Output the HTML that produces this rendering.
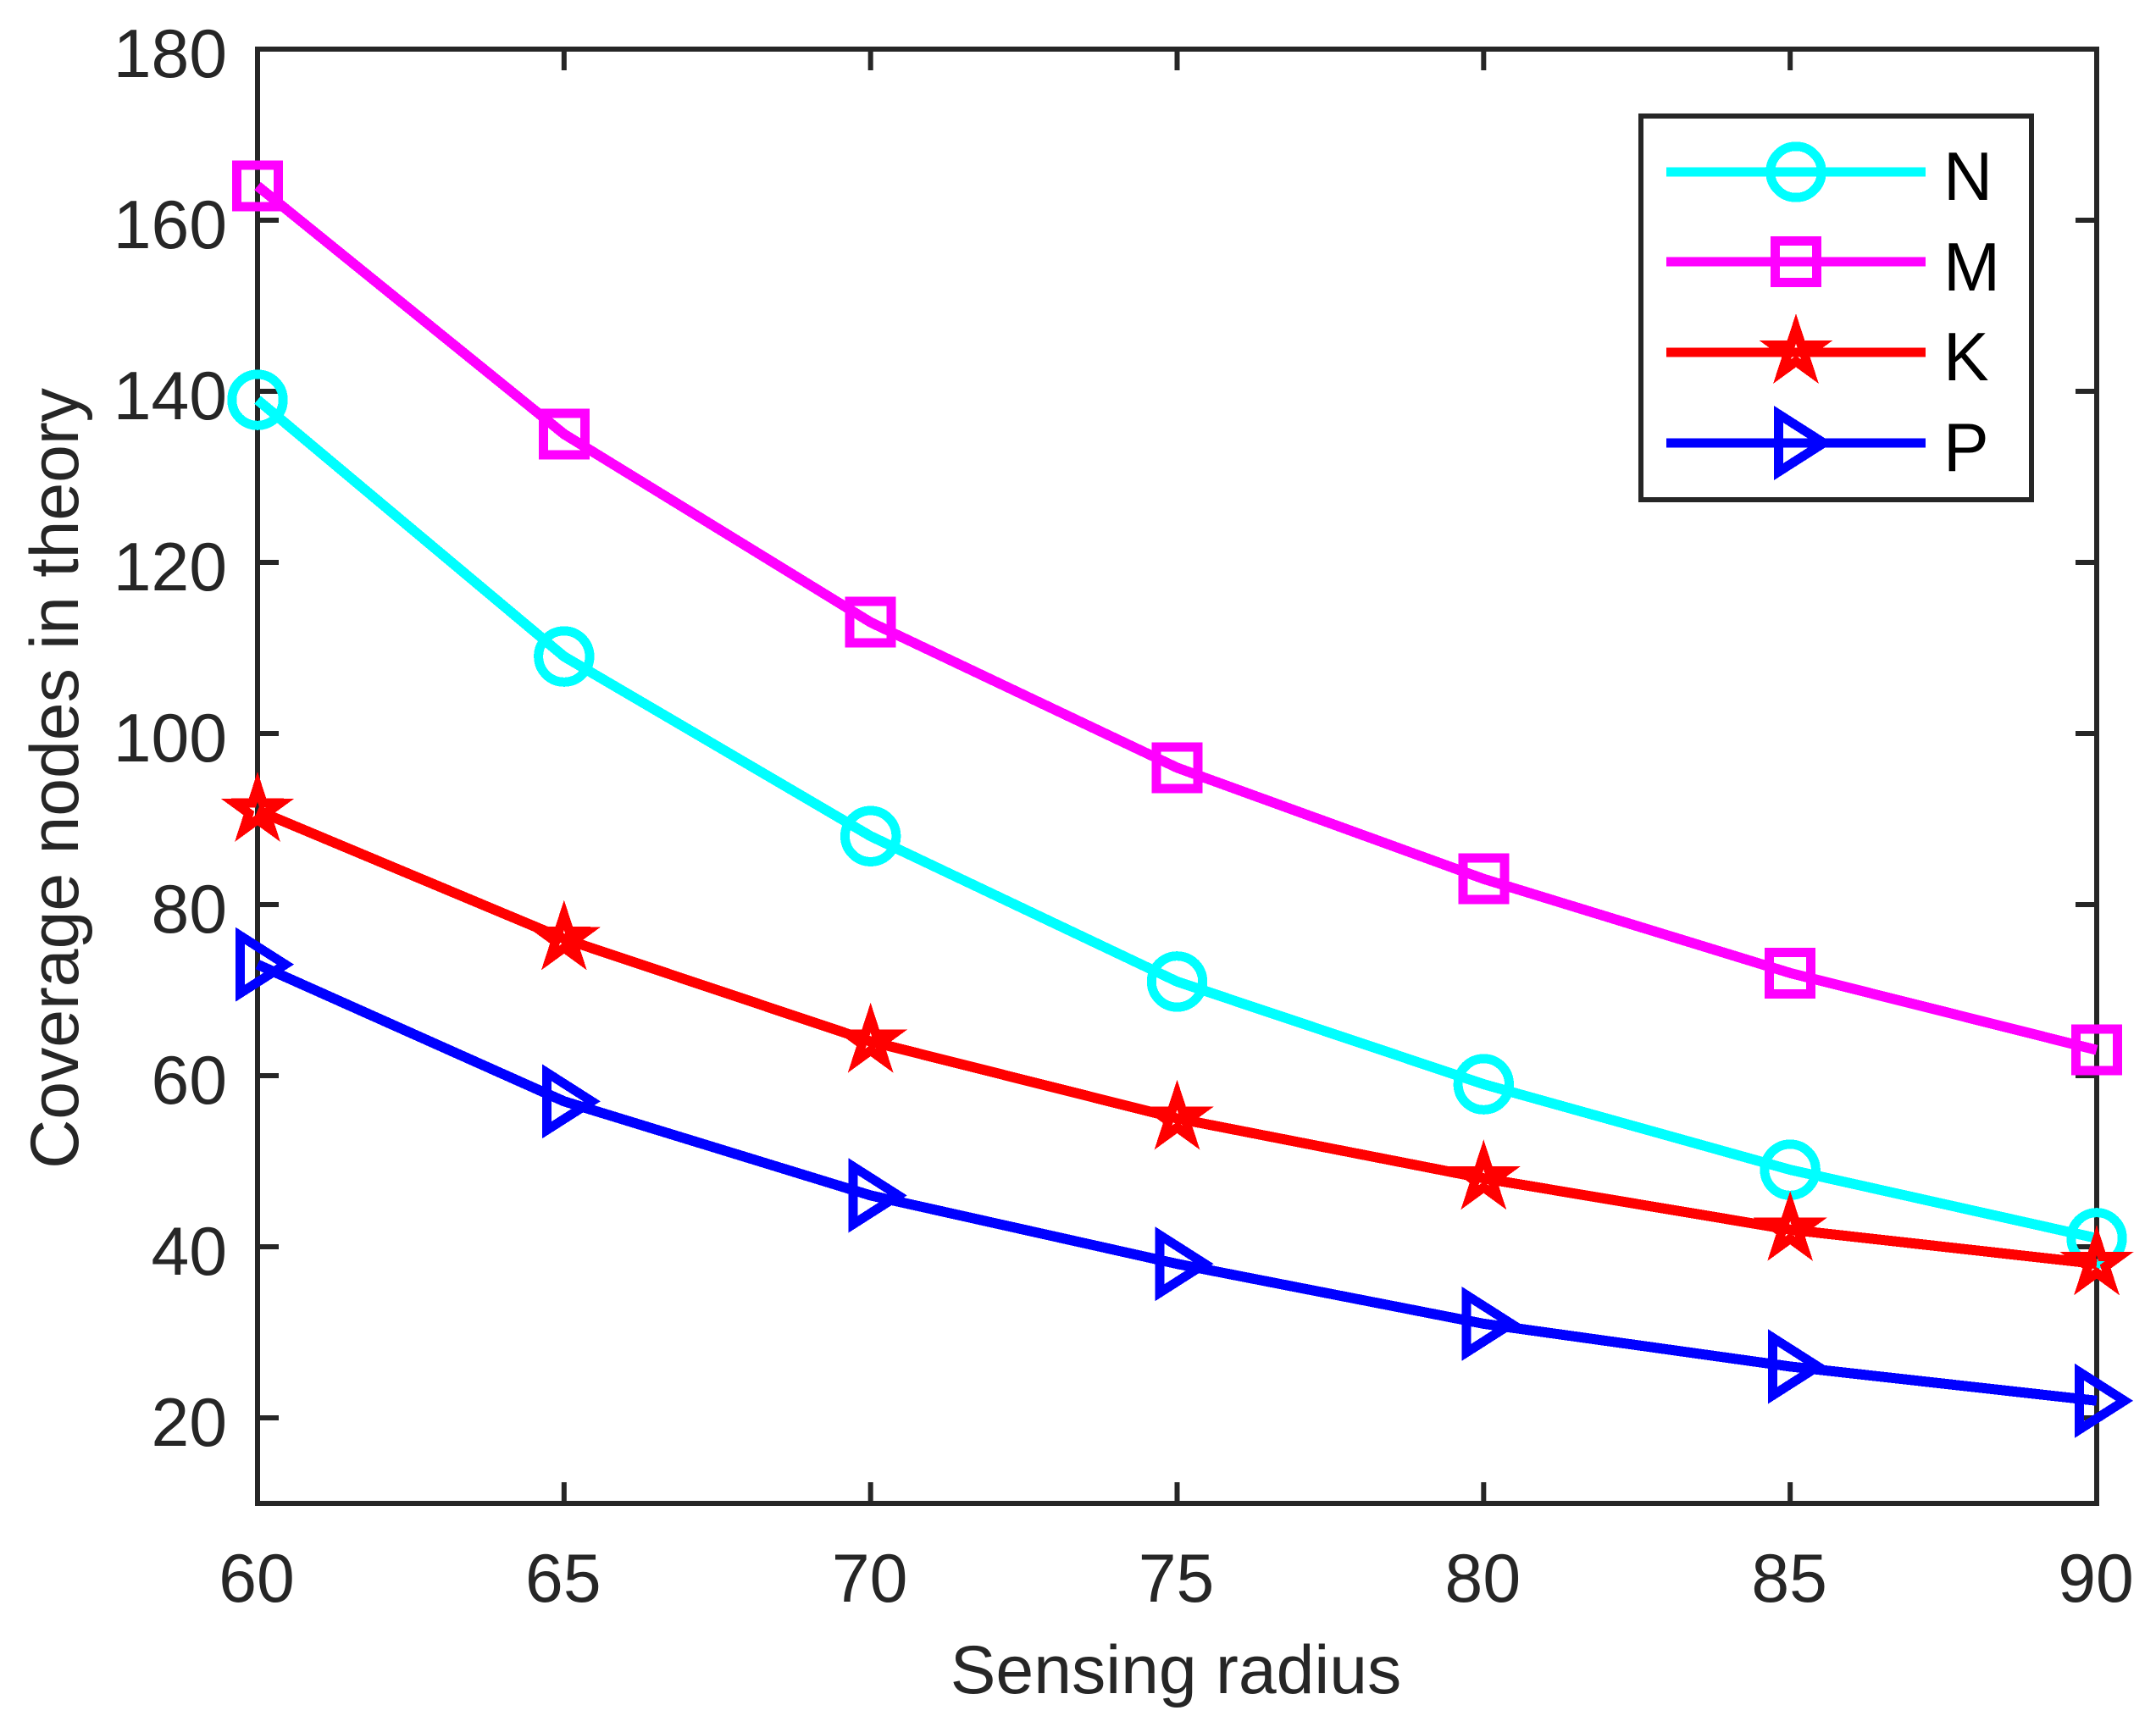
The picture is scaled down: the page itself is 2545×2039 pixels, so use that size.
<!DOCTYPE html>
<html>
<head>
<meta charset="utf-8">
<title>Coverage nodes in theory vs sensing radius</title>
<style>
html,body{margin:0;padding:0;background:#fff;}
svg{display:block;}
text{font-family:"Liberation Sans",Arial,sans-serif;font-size:80.5px;}
</style>
</head>
<body>
<svg id="chart" xmlns="http://www.w3.org/2000/svg" width="2545" height="2039" viewBox="0 0 2545 2039">
<rect x="0" y="0" width="2545" height="2039" fill="#ffffff"/>
<g id="axes"></g>
<g id="series" shape-rendering="crispEdges"></g>
<text x="1388" y="1999" text-anchor="middle" fill="#262626">Sensing radius</text>
<text transform="translate(92 919) rotate(-90)" text-anchor="middle" fill="#262626">Coverage nodes in theory</text>
<g id="legend" shape-rendering="crispEdges"></g>
</svg>
<script>
const categories = [60, 65, 70, 75, 80, 85, 90];
const valuesN = [139, 109, 88, 71, 59, 49, 41];
const valuesM = [164, 135, 113, 96, 83, 72, 63];
const valuesK = [91, 76, 64, 55, 48, 42, 38];
const valuesP = [73, 57, 46, 38, 31, 26, 22];
const xTickLabels = [60, 65, 70, 75, 80, 85, 90];
const yTickLabels = [20, 40, 60, 80, 100, 120, 140, 160, 180];
const seriesNames = ['N', 'M', 'K', 'P'];

const NS = 'http://www.w3.org/2000/svg';
const plotLeft = 304, plotRight = 2475, plotTop = 58, plotBottom = 1775;
const xMin = 60, xMax = 90, yMin = 10, yMax = 180;
const ink = '#262626';
function xScale(v) { return plotLeft + (v - xMin) / (xMax - xMin) * (plotRight - plotLeft); }
function yScale(v) { return plotBottom - (v - yMin) / (yMax - yMin) * (plotBottom - plotTop); }

function make(tag, attrs, parent) {
  const el = document.createElementNS(NS, tag);
  for (const k in attrs) el.setAttribute(k, attrs[k]);
  parent.appendChild(el);
  return el;
}

const axes = document.getElementById('axes');
const plotBox = make('rect', {x: plotLeft, y: plotTop, width: plotRight - plotLeft, height: plotBottom - plotTop, fill: 'none', stroke: ink, 'stroke-width': 6}, axes);



xTickLabels.forEach(function (v) {
  const x = xScale(v);
  [[plotBottom, plotBottom - 25], [plotTop, plotTop + 25]].forEach(function (p) {
    const t = make('line', {x1: x, x2: x, y1: p[0], y2: p[1], stroke: ink, 'stroke-width': 6}, axes);
    
    
  });
  const lab = make('text', {x: x - 1, y: 1891, 'text-anchor': 'middle', fill: ink}, axes);
  lab.textContent = String(v);
  
  
});

yTickLabels.forEach(function (v) {
  const y = yScale(v);
  [[plotLeft, plotLeft + 25], [plotRight, plotRight - 25]].forEach(function (p) {
    const t = make('line', {x1: p[0], x2: p[1], y1: y, y2: y, stroke: ink, 'stroke-width': 6}, axes);
    
    
  });
  const lab = make('text', {x: 268, y: y + 33, 'text-anchor': 'end', fill: ink}, axes);
  lab.textContent = String(v);
  
  
});

function polyPoints(cx, cy, pts) {
  return pts.map(function (p) { return (cx + p[0]).toFixed(2) + ',' + (cy + p[1]).toFixed(2); }).join(' ');
}

function drawCircle(cx, cy, color, parent) {
  return make('circle', {cx: cx, cy: cy, r: 30.2, fill: 'none', stroke: color, 'stroke-width': 11}, parent);
}
function drawSquare(cx, cy, color, parent) {
  return make('rect', {x: cx - 24.5, y: cy - 24.5, width: 49, height: 49, fill: 'none', stroke: color, 'stroke-width': 11}, parent);
}
function drawStar(cx, cy, color, parent) {
  const pts = [];
  for (let i = 0; i < 10; i++) {
    const r = i % 2 === 0 ? 28 : 10.7;
    const a = -Math.PI / 2 + i * Math.PI / 5;
    pts.push([r * Math.cos(a), r * Math.sin(a)]);
  }
  return make('polygon', {points: polyPoints(cx, cy, pts), fill: 'none', stroke: color, 'stroke-width': 11, 'stroke-miterlimit': 10}, parent);
}
function drawTriangle(cx, cy, color, parent) {
  return make('polygon', {points: polyPoints(cx, cy, [[-20.5, -34], [32.8, 0], [-20.5, 34]]), fill: 'none', stroke: color, 'stroke-width': 11, 'stroke-miterlimit': 10}, parent);
}

const seriesValues = [valuesN, valuesM, valuesK, valuesP];
const seriesColors = ['#00ffff', '#ff00ff', '#ff0000', '#0000ff'];
const seriesMarkers = [drawCircle, drawSquare, drawStar, drawTriangle];

const seriesGroup = document.getElementById('series');
seriesValues.forEach(function (vals, s) {
  const pts = vals.map(function (v, i) { return xScale(categories[i]).toFixed(2) + ',' + yScale(v).toFixed(2); }).join(' ');
  const line = make('polyline', {points: pts, fill: 'none', stroke: seriesColors[s], 'stroke-width': 12, 'stroke-linejoin': 'round', 'stroke-linecap': 'butt'}, seriesGroup);
  
  
  vals.forEach(function (v, i) {
    const m = seriesMarkers[s](xScale(categories[i]), yScale(v), seriesColors[s], seriesGroup);
    
    
  });
});

const legend = document.getElementById('legend');
const legendBox = make('rect', {x: 1937, y: 137, width: 461, height: 453, fill: '#ffffff', stroke: ink, 'stroke-width': 6}, legend);


const legendRows = [203, 309, 416, 523];
const legendBaselines = [236, 343, 449, 556];
seriesNames.forEach(function (name, s) {
  const y = legendRows[s];
  const l = make('line', {x1: 1967, x2: 2273, y1: y, y2: y, stroke: seriesColors[s], 'stroke-width': 11}, legend);
  
  
  const m = seriesMarkers[s](2120, y, seriesColors[s], legend);
  
  
  const t = make('text', {x: 2294, y: legendBaselines[s], fill: '#000000'}, legend);
  t.textContent = name;
  
  
});
</script>
</body>
</html>
